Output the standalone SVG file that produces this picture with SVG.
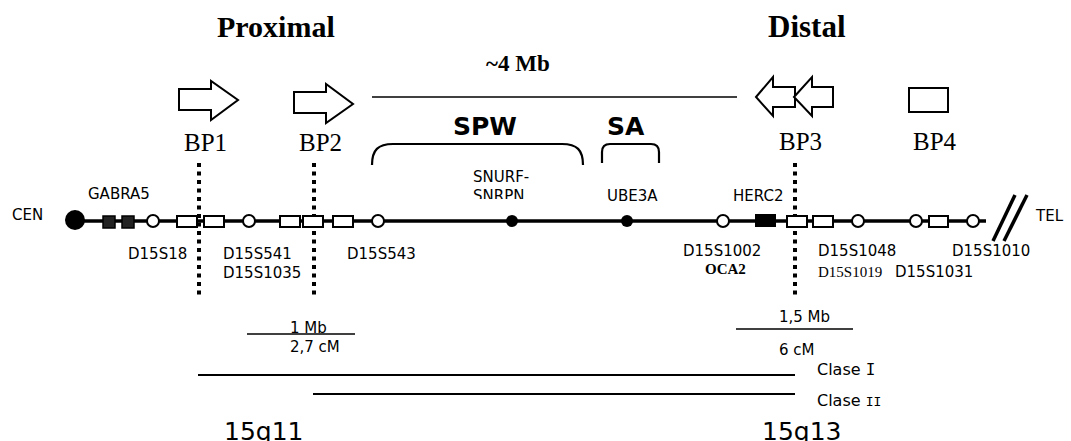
<svg xmlns="http://www.w3.org/2000/svg" width="1071" height="441" viewBox="0 0 1071 441">
<style>
.s{font-family:"DejaVu Sans","Verdana",sans-serif;fill:#000}
.r{font-family:"Liberation Serif","Times New Roman",serif;fill:#000}
.m{font-family:"DejaVu Sans Mono",monospace}
.ln{stroke:#000;fill:none}
.arr{fill:#fff;stroke:#000;stroke-width:2;stroke-linejoin:miter}
.box{fill:#fff;stroke:#000;stroke-width:2}
.oc{fill:#fff;stroke:#000;stroke-width:2}
.dot{stroke:#000;stroke-width:4;stroke-dasharray:4 4.5;fill:none}
</style>
<defs>
<clipPath id="snclip"><rect x="460" y="160" width="100" height="39"/></clipPath>
</defs>
<rect width="1071" height="441" fill="#fff"/>

<g id="titles">
<text class="r" x="217" y="37" font-size="30" font-weight="bold">Proximal</text>
<text class="r" x="768" y="37" font-size="31" font-weight="bold">Distal</text>
<text class="r" x="486" y="71" font-size="23" font-weight="bold">~4 Mb</text>
</g>

<g id="connectors">
<line class="ln" x1="372" y1="97" x2="737" y2="97" stroke-width="1.6"/>
<path class="ln" stroke-width="2.2" d="M372,165 C372,150 378,144 393,144 L562,144 C577,144 583,150 583,165"/>
<path class="ln" stroke-width="2.2" d="M602,163 L602,152 Q602,144 610,144 L651,144 Q659,144 659,152 L659,163"/>
<line class="ln" x1="75" y1="221" x2="986" y2="221" stroke-width="3.5"/>
<line class="dot" x1="199" y1="163" x2="199" y2="298"/>
<line class="dot" x1="314" y1="163" x2="314" y2="298"/>
<line class="dot" x1="795" y1="163" x2="795" y2="298"/>
<line class="ln" x1="993" y1="241" x2="1015" y2="195" stroke-width="3.5"/>
<line class="ln" x1="1004" y1="241" x2="1027" y2="195" stroke-width="3.5"/>
<line class="ln" x1="247" y1="334" x2="355" y2="334" stroke-width="1.6"/>
<line class="ln" x1="736" y1="329" x2="853" y2="329" stroke-width="1.6"/>
<line class="ln" x1="198" y1="375" x2="795" y2="375" stroke-width="2"/>
<line class="ln" x1="313" y1="394" x2="795" y2="394" stroke-width="2"/>
</g>

<g id="bp1">
<polygon class="arr" points="179,89 211,89 211,81 238,100 211,120 211,110 179,110"/>
<text class="r" x="184" y="151" font-size="25">BP1</text>
</g>
<g id="bp2">
<polygon class="arr" points="294,92 326,92 326,84 353,104 326,123 326,113 294,113"/>
<text class="r" x="299" y="151" font-size="25">BP2</text>
</g>
<g id="bp3">
<polygon class="arr" points="756,97 773,77 773,87 795,87 795,107 773,107 773,116"/>
<polygon class="arr" points="794,97 812,77 812,87 833,87 833,107 812,107 812,116"/>
<text class="r" x="779" y="150" font-size="25">BP3</text>
</g>
<g id="bp4">
<rect class="box" x="909" y="88" width="39" height="24"/>
<text class="r" x="913" y="150" font-size="25">BP4</text>
</g>

<g id="spw"><text class="s" x="453" y="135" font-size="25" font-weight="bold">SPW</text></g>
<g id="sa"><text class="s" x="607" y="135" font-size="25" font-weight="bold">SA</text></g>

<g id="cen">
<circle cx="75" cy="220" r="10" fill="#000"/>
<text class="s" x="12" y="220" font-size="15">CEN</text>
</g>
<g id="gabra5">
<rect x="103" y="216" width="12" height="12" fill="#222" stroke="#000" stroke-width="1.5"/>
<rect x="122" y="216" width="12" height="12" fill="#222" stroke="#000" stroke-width="1.5"/>
<text class="s" x="88" y="199" font-size="15">GABRA5</text>
</g>
<g id="d15s18">
<circle class="oc" cx="153" cy="221" r="6"/>
<rect class="box" x="177" y="216" width="20" height="11"/>
<text class="s" x="128" y="259" font-size="15">D15S18</text>
</g>
<g id="d15s541">
<rect class="box" x="204" y="216" width="20" height="11"/>
<circle class="oc" cx="249" cy="221" r="6"/>
<rect class="box" x="280" y="216" width="20" height="11"/>
<rect class="box" x="303" y="216" width="20" height="11"/>
<text class="s" x="223" y="259" font-size="15">D15S541</text>
<text class="s" x="223" y="278" font-size="15">D15S1035</text>
</g>
<g id="d15s543">
<rect class="box" x="333" y="216" width="20" height="11"/>
<circle class="oc" cx="378" cy="221" r="6"/>
<text class="s" x="347" y="259" font-size="15">D15S543</text>
</g>
<g id="snurf">
<circle cx="512" cy="221" r="6" fill="#000"/>
<text class="s" x="473" y="182" font-size="15">SNURF-</text>
<text class="s" x="473" y="201" font-size="15" clip-path="url(#snclip)">SNRPN</text>
</g>
<g id="ube3a">
<circle cx="627" cy="221" r="6" fill="#000"/>
<text class="s" x="607" y="201" font-size="15">UBE3A</text>
</g>
<g id="d15s1002">
<circle class="oc" cx="723" cy="221" r="6"/>
<text class="s" x="683" y="256" font-size="15">D15S1002</text>
<text class="r" x="705" y="274" font-size="15" font-weight="bold">OCA2</text>
</g>
<g id="herc2">
<rect x="755" y="214" width="21" height="13" fill="#000"/>
<text class="s" x="733" y="201" font-size="15">HERC2</text>
</g>
<g id="d15s1048">
<rect class="box" x="787" y="216" width="20" height="11"/>
<rect class="box" x="813" y="216" width="20" height="11"/>
<circle class="oc" cx="858" cy="221" r="6"/>
<text class="s" x="818" y="256" font-size="15">D15S1048</text>
<text class="r" x="818" y="277" font-size="15">D15S1019</text>
</g>
<g id="d15s1031">
<circle class="oc" cx="916" cy="221" r="6"/>
<rect class="box" x="929" y="216" width="19" height="11"/>
<text class="s" x="895" y="277" font-size="15">D15S1031</text>
</g>
<g id="d15s1010">
<circle class="oc" cx="973" cy="221" r="6"/>
<text class="s" x="952" y="256" font-size="15">D15S1010</text>
</g>
<g id="tel"><text class="s" x="1036" y="221" font-size="15">TEL</text></g>

<g id="scale1">
<text class="s" x="290" y="333" font-size="15">1 Mb</text>
<text class="s" x="290" y="352" font-size="15">2,7 cM</text>
</g>
<g id="scale2">
<text class="s" x="779" y="322" font-size="15">1,5 Mb</text>
<text class="s" x="779" y="355" font-size="15">6 cM</text>
</g>
<g id="clase1"><text class="s" x="817" y="375" font-size="16">Clase <tspan class="m">I</tspan></text></g>
<g id="clase2"><text class="s" x="817" y="406" font-size="16">Clase <tspan class="m" font-size="13">II</tspan></text></g>
<g id="bands">
<text class="s" x="224" y="440" font-size="25">15q11</text>
<text class="s" x="762" y="440" font-size="25">15q13</text>
</g>
</svg>
